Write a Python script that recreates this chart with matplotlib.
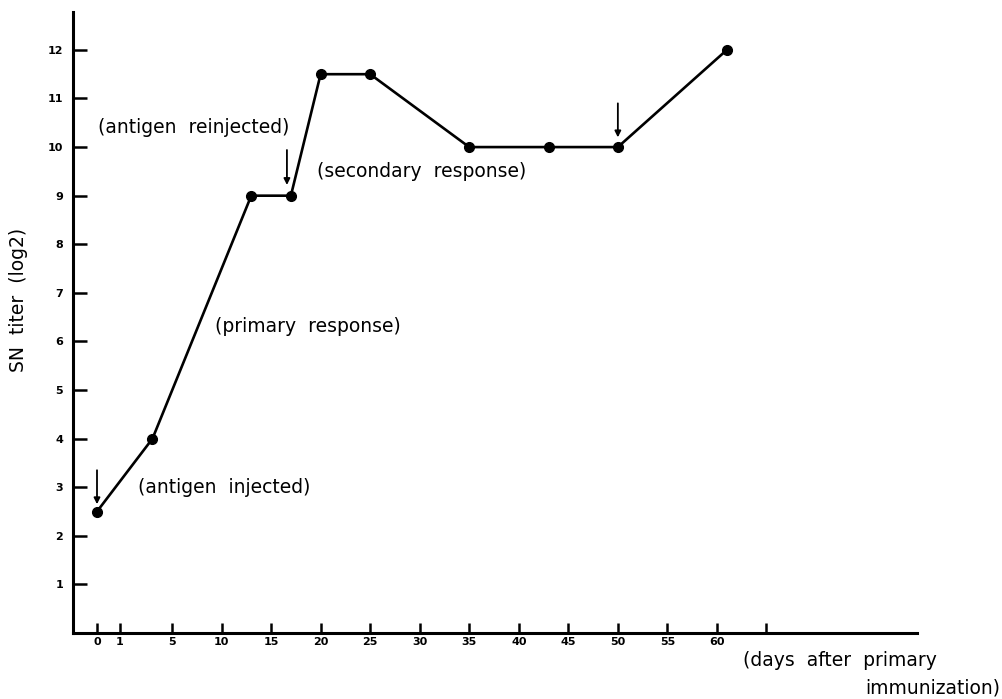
import numpy as np
import matplotlib
matplotlib.use("Agg")
import matplotlib.pyplot as plt

# antibody titer after immunization
days = [0, 3.5, 13, 17, 20, 25, 35, 43, 50, 61]
titer = [2.5, 4, 9, 9, 11.5, 11.5, 10, 10, 10, 12]

x_ticks = [0, 1, 5, 10, 15, 20, 25, 30, 35, 40, 45, 50, 55, 60, 65]
x_tick_labels = ["0", "1", "5", "10", "15", "20", "25", "30", "35", "40",
                 "45", "50", "55", "60", ""]
y_ticks = [1, 2, 3, 4, 5, 6, 7, 8, 9, 10, 11, 12]

# arrows marking injections: (day, top, bottom)
arrows = [(0, 3.35, 2.65), (16.6, 9.94, 9.22), (50, 10.9, 10.2)]

# the day axis of the original is stretched at the start
anchor_days = [-5, 0, 1, 5, 60, 81]
anchor_pos = [-24, 0, 23, 75, 620, 828]


def forward(d):
    return np.interp(d, anchor_days, anchor_pos)


def inverse(p):
    return np.interp(p, anchor_pos, anchor_days)


plt.rcParams["font.family"] = ["DejaVu Sans"]

fig = plt.figure(figsize=(10.02, 6.99), dpi=100)
ax = fig.add_axes([73 / 1002, 66 / 699, 844 / 1002, 621 / 699])
ax.set_xscale("function", functions=(forward, inverse))
ax.set_xlim(-5, 80.2)
ax.set_ylim(0, 12.78)

ax.plot(days, titer, color="black", lw=1.9, marker="o", ms=7)

for d, top, bottom in arrows:
    ax.annotate("", xy=(d, bottom), xytext=(d, top),
                arrowprops=dict(arrowstyle="-|>", color="black", lw=1.3,
                                mutation_scale=9, shrinkA=0, shrinkB=0))

fs = 13.5
ax.text(2.4, 3.0, "(antigen  injected)", fontsize=fs, va="center", ha="left")
ax.text(0.05, 10.4, "(antigen  reinjected)", fontsize=fs, va="center", ha="left")
ax.text(9.3, 6.3, "(primary  response)", fontsize=fs, va="center", ha="left")
ax.text(19.6, 9.5, "(secondary  response)", fontsize=fs, va="center", ha="left")

ax.set_xticks(x_ticks)
ax.set_xticklabels(x_tick_labels)
ax.set_yticks(y_ticks)
ax.tick_params(direction="in", length=7, width=1.8, labelsize=8, pad=3)
ax.tick_params(axis="y", length=10, pad=7)
for lab in ax.get_xticklabels() + ax.get_yticklabels():
    lab.set_fontweight("bold")

for side in ["top", "right"]:
    ax.spines[side].set_visible(False)
for side in ["left", "bottom"]:
    ax.spines[side].set_linewidth(2.2)

ax.set_ylabel("SN  titer  (log2)", fontsize=fs)
ax.yaxis.set_label_coords(-0.053, 0.536)

fig.text(743 / 1002, 1 - 660 / 699, "(days  after  primary", fontsize=fs,
         ha="left", va="center")
fig.text(0.998, 1 - 688 / 699, "immunization)", fontsize=fs,
         ha="right", va="center")

fig.savefig("out.png", dpi=100)
